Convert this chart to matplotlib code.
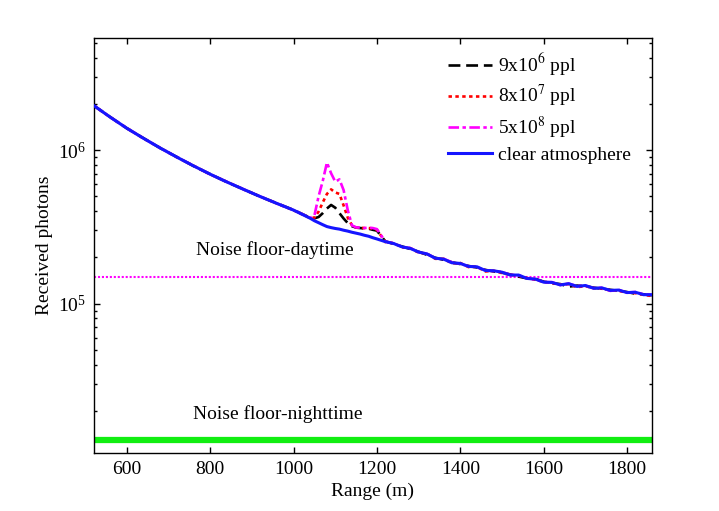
import matplotlib

matplotlib.use("Agg")
import matplotlib.pyplot as plt
import numpy as np
from matplotlib.ticker import FixedLocator, LogLocator, NullFormatter

UNIT = 1e5  # values below are in units of 1e5 photons

# range grid (m): coarse before the plume, fine across it, medium in the tail
RANGE_M = (
    [520, 560, 600, 640, 680, 720, 760, 800, 840, 880, 920, 960, 1000]
    + [1040, 1050, 1060, 1070, 1080, 1090, 1100, 1110, 1120, 1130,
       1140, 1150, 1160, 1170, 1180, 1190, 1200]
    + [1220, 1240, 1260, 1280, 1300, 1320, 1340, 1360, 1380, 1400, 1420,
       1440, 1460, 1480, 1500, 1520, 1540, 1560, 1580, 1600, 1620, 1640,
       1660, 1680, 1700, 1720, 1740, 1760, 1780, 1800, 1820, 1840, 1860]
)

CLEAR = (
    [19.63, 16.45, 13.92, 11.96, 10.35, 9.02, 7.91, 6.98, 6.21, 5.56, 4.99, 4.50, 4.07]
    + [3.60, 3.47, 3.37, 3.27, 3.18, 3.13, 3.09, 3.06, 3.01, 2.97,
       2.92, 2.88, 2.84, 2.79, 2.75, 2.69, 2.64]
    + [2.535, 2.466, 2.344, 2.291, 2.168, 2.109, 1.977, 1.950, 1.845, 1.828, 1.746,
       1.738, 1.644, 1.637, 1.603, 1.535, 1.535, 1.459, 1.445, 1.380, 1.374, 1.324,
       1.349, 1.294, 1.312, 1.259, 1.265, 1.219, 1.225, 1.180, 1.186, 1.143, 1.143]
)

PLUME_9E6 = (
    [19.60, 16.48, 13.90, 11.99, 10.33, 9.04, 7.89, 6.99, 6.20, 5.57, 4.98, 4.51, 4.08]
    + [3.63, 3.60, 3.67, 3.89, 4.17, 4.40, 4.22, 3.89, 3.59, 3.35,
       3.20, 3.13, 3.11, 3.09, 3.08, 3.03, 2.99]
    + [2.55, 2.45, 2.36, 2.27, 2.18, 2.08, 1.99, 1.93, 1.86, 1.81, 1.76,
       1.72, 1.66, 1.62, 1.59, 1.55, 1.50, 1.46, 1.45, 1.39, 1.36, 1.34,
       1.29, 1.31, 1.30, 1.27, 1.25, 1.23, 1.21, 1.19, 1.16, 1.15, 1.13]
)

PLUME_8E7 = (
    [19.65, 16.42, 13.95, 11.94, 10.37, 9.00, 7.93, 6.96, 6.23, 5.55, 5.00, 4.49, 4.06]
    + [3.61, 3.63, 3.98, 4.57, 5.19, 5.56, 5.31, 5.19, 4.37, 3.63,
       3.24, 3.14, 3.12, 3.11, 3.11, 3.09, 3.03]
    + [2.52, 2.48, 2.33, 2.30, 2.15, 2.12, 1.96, 1.96, 1.83, 1.84, 1.73,
       1.74, 1.62, 1.64, 1.58, 1.54, 1.52, 1.47, 1.43, 1.39, 1.36, 1.33,
       1.34, 1.28, 1.30, 1.26, 1.25, 1.22, 1.21, 1.18, 1.17, 1.14, 1.12]
)

PLUME_5E8 = (
    [19.62, 16.46, 13.93, 11.97, 10.34, 9.03, 7.92, 6.97, 6.22, 5.57, 4.99, 4.50, 4.07]
    + [3.62, 3.76, 5.01, 6.31, 8.32, 7.08, 6.24, 6.46, 5.50, 4.07,
       3.24, 3.14, 3.13, 3.11, 3.13, 3.11, 3.06]
    + [2.54, 2.47, 2.35, 2.30, 2.17, 2.11, 1.98, 1.96, 1.86, 1.82, 1.75,
       1.73, 1.65, 1.63, 1.61, 1.54, 1.53, 1.46, 1.44, 1.38, 1.38, 1.32,
       1.35, 1.30, 1.31, 1.26, 1.27, 1.21, 1.23, 1.18, 1.19, 1.15, 1.14]
)

NOISE_DAY = 1.50e5
NOISE_NIGHT = 1.29e4

LABELS = [r"9x10$^{6}$ ppl", r"8x10$^{7}$ ppl", r"5x10$^{8}$ ppl", "clear atmosphere"]
X_TICKS = [600, 800, 1000, 1200, 1400, 1600, 1800]

plt.rcParams["font.family"] = ["Liberation Serif", "DejaVu Serif"]
plt.rcParams["mathtext.fontset"] = "stix"
plt.rcParams["font.size"] = 14

x = np.asarray(RANGE_M, dtype=float)

fig = plt.figure(figsize=(7.19, 5.11), dpi=100)
ax = fig.add_axes([0.1307, 0.1135, 0.7761, 0.8121])

ax.plot(x, np.asarray(PLUME_9E6) * UNIT, color="black", lw=1.9,
        dashes=(4.5, 2.2), label=LABELS[0], zorder=2)
ax.plot(x, np.asarray(PLUME_8E7) * UNIT, color="#ff0000", lw=1.9,
        dashes=(1.3, 1.3), label=LABELS[1], zorder=2)
ax.plot(x, np.asarray(PLUME_5E8) * UNIT, color="#ff00ff", lw=1.9,
        dashes=(4.0, 1.3, 1.3, 1.3), label=LABELS[2], zorder=2)
ax.plot(x, np.asarray(CLEAR) * UNIT, color="#1515ff", lw=2.2,
        label=LABELS[3], zorder=3)

ax.axhline(NOISE_DAY, color="#ff00ff", lw=1.5, dashes=(1.0, 0.9), zorder=1)
ax.axhline(NOISE_NIGHT, color="#11ee11", lw=4.5, zorder=1)

ax.text(955, 2.24e5, "Noise floor-daytime", ha="center", va="center")
ax.text(962, 1.9e4, "Noise floor-nighttime", ha="center", va="center")

ax.set_yscale("log")
ax.set_xlim(521, 1860)
ax.set_ylim(1.06e4, 5.4e6)
ax.xaxis.set_major_locator(FixedLocator(X_TICKS))
ax.yaxis.set_major_locator(LogLocator(base=10))
ax.yaxis.set_minor_locator(LogLocator(base=10, subs=np.arange(2, 10)))
ax.yaxis.set_minor_formatter(NullFormatter())
ax.tick_params(which="both", direction="in", top=True, right=True, width=1.0)
ax.tick_params(which="major", length=4, pad=6)
ax.tick_params(which="minor", length=2.5)
for spine in ax.spines.values():
    spine.set_linewidth(1.0)

ax.set_xlabel("Range (m)", labelpad=3)
ax.set_ylabel("Received photons", labelpad=3)

ax.legend(loc="upper left", bbox_to_anchor=(0.634, 0.968), frameon=False,
          borderpad=0, borderaxespad=0, handlelength=2.25, handletextpad=0.35,
          labelspacing=0.28)

fig.savefig("out.png", dpi=100)
